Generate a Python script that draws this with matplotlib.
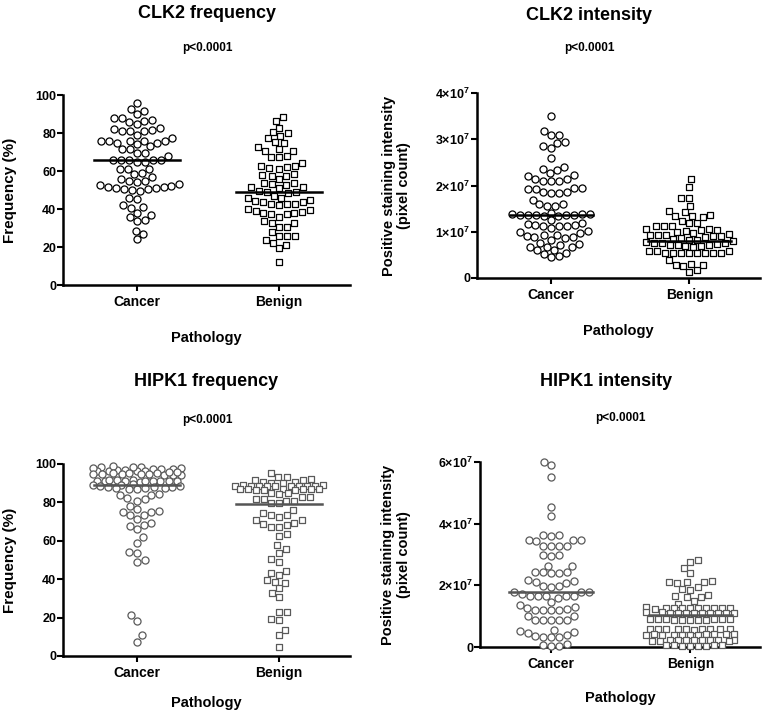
import numpy as np
import matplotlib
matplotlib.use("Agg")
import matplotlib.pyplot as plt
from matplotlib.ticker import FuncFormatter

plt.rcParams['font.family'] = ['Liberation Sans', 'DejaVu Sans']
plt.rcParams['font.weight'] = 'bold'
plt.rcParams['mathtext.fontset'] = 'custom'
plt.rcParams['mathtext.rm'] = 'Liberation Sans:bold'
plt.rcParams['mathtext.bf'] = 'Liberation Sans:bold'

groups = ["Cancer", "Benign"]

# CLK2 frequency (%)
clk2_freq_cancer = [96, 92.6, 91.6, 90, 88, 88, 87, 86.5, 86, 85, 82.5, 82, 81.6, 81, 81, 81, 79, 77.5,
                    76, 76, 76, 76, 76, 75, 74.6, 74, 73, 71.6, 71.4, 69.6, 69.3, 68, 66, 66, 66, 66, 66,
                    65, 65, 61, 61, 61, 59, 58.4, 57, 55.6, 55, 54.6, 54.4, 53, 52.5, 52, 51.4, 51.4, 51,
                    51, 50.4, 50.4, 50, 49.3, 46, 45.4, 42, 41, 40.4, 38, 36.8, 36, 34, 33.7, 28.6, 26.7, 24.2]
clk2_freq_benign = [88.2, 86.5, 82.8, 80.4, 80, 78.6, 77.2, 75.4, 75, 72.5, 71.8, 70.7, 70.5, 68, 67.5,
                    67.2, 64.4, 62.6, 62.6, 62, 61.4, 61, 58.4, 58, 57.4, 57.4, 55.8, 53.9, 53.9, 53, 52.5,
                    51.4, 51.4, 51, 49.6, 49, 48.8, 48.2, 46.8, 46, 45.8, 45, 44.4, 43.8, 43.8, 42.6, 42.6,
                    42.6, 42, 39.8, 39.5, 39, 38.4, 38, 37.7, 37.4, 37.4, 36, 33.5, 32.8, 32.5, 30.7, 30.7,
                    28, 26, 25.8, 25.8, 23.7, 22.3, 21, 19.3, 12.3]

# CLK2 intensity (x1e7 pixel count)
clk2_int_cancer = [3.51, 3.17, 3.10, 3.10, 2.95, 2.92, 2.86, 2.81, 2.59, 2.40, 2.36, 2.33, 2.26, 2.23, 2.20,
                   2.14, 2.13, 2.09, 2.09, 2.09, 1.95, 1.95, 1.92, 1.92, 1.87, 1.85, 1.84, 1.84, 1.68, 1.61,
                   1.59, 1.56, 1.55, 1.40, 1.39, 1.39, 1.39, 1.37, 1.37, 1.37, 1.37, 1.37, 1.33, 1.33, 1.26,
                   1.20, 1.17, 1.15, 1.15, 1.12, 1.12, 1.12, 1.08, 1.01, 0.99, 0.97, 0.94, 0.92, 0.90, 0.89,
                   0.89, 0.86, 0.83, 0.76, 0.74, 0.72, 0.68, 0.68, 0.67, 0.61, 0.60, 0.55, 0.52, 0.47, 0.45]
clk2_int_benign = [2.14, 1.97, 1.73, 1.73, 1.55, 1.44, 1.42, 1.37, 1.35, 1.33, 1.32, 1.23, 1.19, 1.19,
                   1.13, 1.12, 1.06, 1.03, 1.03, 1.01, 0.99, 0.97, 0.96, 1.05, 1.13,
                   0.92, 0.92, 0.92, 0.90, 0.90, 0.89, 0.86, 0.84, 0.83, 0.83, 0.81,
                   0.77, 0.76, 0.76, 0.76, 0.74, 0.72, 0.72, 0.72, 0.70, 0.70, 0.68,
                   0.58, 0.58, 0.58, 0.55, 0.55, 0.54, 0.54, 0.54, 0.54, 0.53, 0.53,
                   0.40, 0.31, 0.29, 0.29, 0.25, 0.18, 0.14]

# HIPK1 frequency (%)
hipk1_freq_cancer = [98.5, 98.2, 97.8, 97.5, 97, 96.6, 96.4, 96.3, 96.5, 96.8, 97.2, 97.6, 98, 98.3, 99,
                     95.5, 95.2, 95, 94.8, 94.5, 94.4, 94.4, 94.6, 94.8, 95, 95.3, 95.6, 96,
                     91.2, 91, 90.9, 90.8, 90.8, 90.9, 91, 91.1, 91.2, 91.3, 91.4, 91.5, 91.6, 91.8,
                     89.5, 89, 88.6, 88.2, 87.8, 87.4, 87.2, 87, 87.3, 87.6, 88, 88.5, 89,
                     84.4, 83.9, 83.9, 82.1, 81.6, 80.9, 78.1, 76.4, 75.5, 75.2, 75.2, 73.4, 73.4, 71.2,
                     69.1, 68.2, 67.7, 66, 61.8, 59, 54.3, 53.8, 50, 49.1, 21.4, 18.4, 10.9, 7.5]
hipk1_freq_benign = [95.1, 93.4, 93, 92.4, 91.7, 91.7, 90.8, 90.8, 89.9, 89.9,
                     89, 88.8, 88.6, 88.5, 88.4, 88.3, 88.4, 88.5, 88.6, 88.8, 89,
                     87.2, 87, 86.8, 86.6, 86.5, 86.6, 86.8, 87, 87.2, 85, 84.6, 84.8,
                     82.6, 82.6, 81.6, 81.6, 80.9, 80.9, 79.9, 79.5, 76, 74.3, 73.4, 73.4, 72.2, 70.8,
                     70.8, 69.4, 68.8, 68.2, 67.4, 67.4, 63.5, 62.5, 57.8, 55.6, 53.8, 50.3, 49.1, 44.4,
                     43.4, 42.2, 39.6, 38.7, 38.2, 35.2, 32.6, 30.9, 23.1, 23.1, 19.1, 18.8, 13.5, 10.9, 4.5]

# HIPK1 intensity (x1e7 pixel count)
hipk1_int_cancer = [6.0, 5.91, 5.51, 4.54, 4.26, 3.64, 3.64, 3.61, 3.48, 3.48, 3.46, 3.43, 3.29, 3.29,
                    3.26, 3.26, 2.99, 2.97, 2.96, 2.64, 2.62, 2.42, 2.42, 2.42, 2.40, 2.40, 2.18, 2.13,
                    2.10, 2.08, 1.99, 1.97, 1.95, 1.77, 1.77, 1.77, 1.73, 1.66, 1.66, 1.64, 1.64, 1.64,
                    1.59, 1.45, 1.37, 1.30, 1.26, 1.22, 1.2, 1.2, 1.2, 1.19, 0.99, 0.99, 0.86, 0.86, 0.86,
                    0.86, 0.86, 0.56, 0.51, 0.48, 0.45, 0.40, 0.35, 0.32, 0.32, 0.32, 0.1, 0.06, 0.04, 0.04]
hipk1_int_benign = [2.83, 2.75, 2.56, 2.40, 2.13, 2.12, 2.10, 2.10, 2.08, 1.95, 1.88, 1.86, 1.70, 1.64,
                    1.62, 1.62, 1.48, 1.41,
                    1.28, 1.27, 1.26, 1.26, 1.25, 1.25, 1.24, 1.26, 1.27, 1.28, 1.29,
                    1.12, 1.11, 1.10, 1.10, 1.09, 1.10, 1.11, 1.12, 1.10, 1.09, 1.11,
                    0.91, 0.90, 0.89, 0.88, 0.89, 0.90, 0.91, 0.92, 0.90, 0.88, 0.89,
                    0.60, 0.58, 0.57, 0.58, 0.59, 0.60, 0.56, 0.58, 0.57, 0.59,
                    0.42, 0.41, 0.40, 0.39, 0.40, 0.41, 0.42, 0.38, 0.40, 0.41, 0.39,
                    0.24, 0.23, 0.22, 0.21, 0.22, 0.23, 0.24, 0.20, 0.22, 0.23, 0.21,
                    0.06, 0.05, 0.04, 0.03, 0.04, 0.05, 0.06, 0.04]

# median lines
clk2_freq_med = [66, 49]
clk2_int_med = [1.37, 0.81]
hipk1_freq_med = [89, 79]
hipk1_int_med = [1.77, 1.03]

W, H = 762, 716
fig = plt.figure(figsize=(W / 100, H / 100), dpi=100)


def px_axes(x0, x1, y0, y1):
    return fig.add_axes([x0 / W, 1 - y1 / H, (x1 - x0) / W, (y1 - y0) / H])


def swarm(ax, xc, vals, d=8.0, half=44):
    # beeswarm in pixel space, capped at +-half px; overflow points overlap
    vals = np.asarray(vals, float)
    ys = ax.transData.transform(np.column_stack([np.full(len(vals), xc), vals]))[:, 1]
    ppu = ax.transData.transform((1, 0))[0] - ax.transData.transform((0, 0))[0]
    placed = []
    offs = np.zeros(len(vals))
    flip = 1
    grid = np.linspace(-half, half, 23)
    for i in np.argsort(ys):
        y = ys[i]
        near = [(px, py) for px, py in placed if abs(py - y) < d]
        cands = [0.0]
        for px, py in near:
            dx = np.sqrt(d * d - (py - y) ** 2)
            cands += [px + dx, px - dx]
        cands = [c for c in cands if abs(c) <= half + 0.01]
        cands = sorted(cands, key=lambda c: (round(abs(c), 3), -flip * c))
        best = None
        for c in cands:
            if all((c - px) ** 2 + (y - py) ** 2 >= d * d - 1e-6 for px, py in near):
                best = c
                break
        if best is None:
            score = [min((g - px) ** 2 + (y - py) ** 2 for px, py in near) for g in grid]
            best = grid[int(np.argmax(score))]
        if best != 0:
            flip = -flip
        placed.append((best, y))
        offs[i] = best / ppu
    return xc + offs


def style(ax, ymax, ystep, fmt=None):
    ax.set_ylim(0, ymax)
    ax.set_yticks(np.arange(0, ymax + ystep / 2, ystep))
    if fmt:
        ax.yaxis.set_major_formatter(FuncFormatter(fmt))
    for s in ["top", "right"]:
        ax.spines[s].set_visible(False)
    for s in ["left", "bottom"]:
        ax.spines[s].set_linewidth(1.8)
    ax.tick_params(axis="both", width=1.5, length=4, direction="out")
    ax.tick_params(axis="y", labelsize=9, pad=1)
    ax.tick_params(axis="x", labelsize=10)
    ax.set_xticks([0, 1])
    ax.set_xticklabels(groups, fontweight="bold")
    for lab in ax.get_yticklabels():
        lab.set_fontweight("bold")
    ax.set_xlabel("Pathology", fontsize=10.5, fontweight="bold")


def sci(v, pos):
    if v == 0:
        return "0"
    return r"$%d{\times}10^{7}$" % round(v)


def draw(ax, cancer, benign, med, edge, lcol):
    xs = swarm(ax, 0, cancer)
    ax.scatter(xs, cancer, s=26, marker="o", facecolor="white", edgecolor=edge, linewidth=0.9,
               zorder=3, clip_on=False)
    xs = swarm(ax, 1, benign)
    ax.scatter(xs, benign, s=24, marker="s", facecolor="white", edgecolor=edge, linewidth=0.9,
               zorder=3, clip_on=False)
    for i, m in enumerate(med):
        ax.plot([i - 0.3, i + 0.3], [m, m], color=lcol, lw=1.8, zorder=4)


# CLK2 frequency
ax1 = px_axes(63, 350, 95, 285)
ax1.set_xlim(-0.52, 1.5)
style(ax1, 100, 20)
draw(ax1, clk2_freq_cancer, clk2_freq_benign, clk2_freq_med, "black", "black")
ax1.set_ylabel("Frequency (%)", fontsize=11, fontweight="bold", va="center")
ax1.yaxis.set_label_coords(-0.185, 0.5)
ax1.xaxis.set_label_coords(0.5, -0.24)

# CLK2 intensity
ax2 = px_axes(477, 760, 93, 278)
ax2.set_xlim(-0.536, 1.51)
style(ax2, 4, 1, sci)
draw(ax2, clk2_int_cancer, clk2_int_benign, clk2_int_med, "black", "black")
ax2.set_ylabel("Positive staining intensity\n(pixel count)", fontsize=10.5, fontweight="bold",
               linespacing=1.1, va="center")
ax2.yaxis.set_label_coords(-0.285, 0.5)
ax2.xaxis.set_label_coords(0.5, -0.25)

# HIPK1 frequency
ax3 = px_axes(63, 350, 464, 656)
ax3.set_xlim(-0.52, 1.5)
style(ax3, 100, 20)
draw(ax3, hipk1_freq_cancer, hipk1_freq_benign, hipk1_freq_med, "#5a5a5a", "#555555")
ax3.set_ylabel("Frequency (%)", fontsize=11, fontweight="bold", va="center")
ax3.yaxis.set_label_coords(-0.185, 0.5)
ax3.xaxis.set_label_coords(0.5, -0.21)

# HIPK1 intensity
ax4 = px_axes(480, 760, 462, 647)
ax4.set_xlim(-0.51, 1.5)
style(ax4, 6, 2, sci)
draw(ax4, hipk1_int_cancer, hipk1_int_benign, hipk1_int_med, "#5a5a5a", "#555555")
ax4.set_ylabel("Positive staining intensity\n(pixel count)", fontsize=10.5, fontweight="bold",
               linespacing=1.1, va="center")
ax4.yaxis.set_label_coords(-0.3, 0.5)
ax4.xaxis.set_label_coords(0.5, -0.24)

# titles and p values (pixel positions)
for txt, x, y, fs in [("CLK2 frequency", 207, 13, 13), ("p<0.0001", 207, 48, 8.5),
                      ("CLK2 intensity", 589, 15, 13), ("p<0.0001", 589, 48, 8.5),
                      ("HIPK1 frequency", 206, 382, 13), ("p<0.0001", 207, 420, 8.5),
                      ("HIPK1 intensity", 606, 382, 13), ("p<0.0001", 620, 418, 8.5)]:
    fig.text(x / W, 1 - y / H, txt, ha="center", va="center", fontsize=fs, fontweight="bold")

fig.savefig("out.png", dpi=100)
